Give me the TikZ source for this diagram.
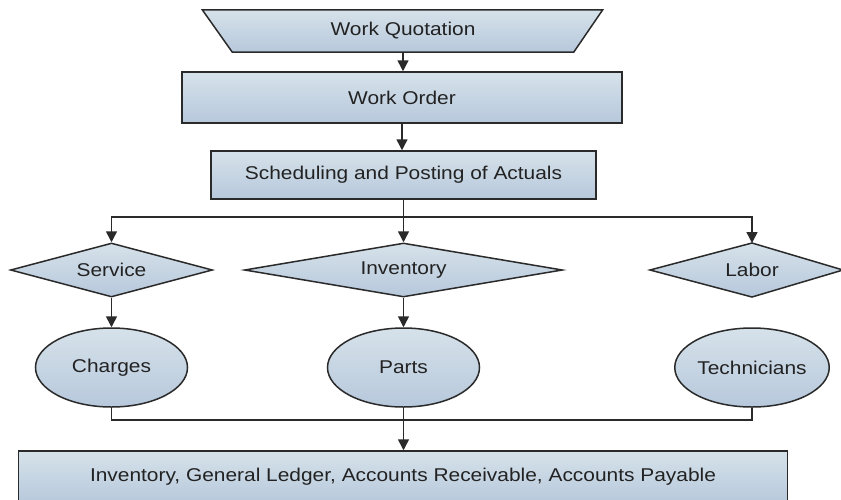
\documentclass[tikz,border=0pt]{standalone}
\usepackage{fontspec}
\setmainfont{Liberation Sans}[FakeStretch=1.13]
\usetikzlibrary{shapes.geometric,arrows.meta,backgrounds}
\definecolor{edgec}{HTML}{2A2A2A}
\definecolor{ftop}{HTML}{D6E2EA}
\definecolor{fbot}{HTML}{B7C8DC}
\definecolor{txtc}{HTML}{222222}
\begin{document}
\begin{tikzpicture}[x=1pt,y=-1pt,
  font=\fontsize{18.5}{22}\selectfont,
  boxfill/.style={draw=edgec, line width=1.5pt, top color=ftop, bottom color=fbot},
  box/.style={boxfill, rectangle, inner sep=0pt, text=txtc},
  dia/.style={boxfill, diamond, inner sep=0pt},
  ell/.style={boxfill, ellipse, inner sep=0pt, minimum width=152pt, minimum height=79pt, text=txtc},
  lbl/.style={inner sep=0pt, text=txtc},
  conn/.style={draw=edgec, line width=1.5pt},
  arr/.style={conn, -{Triangle[length=11pt,width=11pt]}}]
\useasboundingbox (0,0) rectangle (841,499);

% Work Quotation (inverted trapezoid)
\node[lbl, minimum width=341pt, minimum height=42pt] (wq) at (403,31) {Work Quotation};
\begin{pgfonlayer}{background}
\fill[white] (0,0) rectangle (841,499);
\path[boxfill] (wq.south west) -- (wq.south east) -- ([xshift=29pt]wq.north east) -- ([xshift=-30pt]wq.north west) -- cycle;
\end{pgfonlayer}

\node[box, minimum width=440pt, minimum height=51pt] (wo) at (402,97.5) {Work Order};
\node[box, minimum width=385pt, minimum height=48pt] (sched) at (403.5,175) {Scheduling and Posting of Actuals};

% decisions
\node[dia, minimum width=202pt, minimum height=54pt] (service) at (111.5,270) {};
\node[lbl] (serviceT) at (service) {Service};
\node[dia, minimum width=318pt, minimum height=54pt] (inventory) at (403.5,270) {};
\node[lbl] (inventoryT) at (inventory) {Inventory};
\coordinate (labortop) at (752,243);
\coordinate (laborbot) at (752,297);
\path[boxfill] (650,270) -- (labortop) -- (843,270) -- (laborbot) -- cycle;
\node[lbl] (labor) at (752,270) {Labor};

% ellipses
\node[ell] (charges) at (111.5,367.5) {Charges};
\node[ell] (parts) at (403.5,367.5) {Parts};
\node[ell] (tech) at (752,367.5) {Technicians};

% bottom box
\node[box, minimum width=769pt, minimum height=52pt] (ledger) at (403,477) {Inventory, General Ledger, Accounts Receivable, Accounts Payable};

% connectors
\draw[arr] (wq.south) -- (wq.south |- wo.north);
\draw[arr] (wo.south) -- (wo.south |- sched.north);
\coordinate (bus) at (403.5,217);
\draw[arr] (sched.south) -- (inventory.north);
\draw[arr] (bus) -| (service.north);
\draw[arr] (bus) -| (labortop);
\draw[arr] (service.south) -- (charges.north);
\draw[arr] (inventory.south) -- (parts.north);
\coordinate (join) at (403.5,420);
\draw[conn] (charges.south) |- (join) -| (tech.south);
\draw[arr] (parts.south) -- (parts.south |- ledger.north);
\end{tikzpicture}
\end{document}
